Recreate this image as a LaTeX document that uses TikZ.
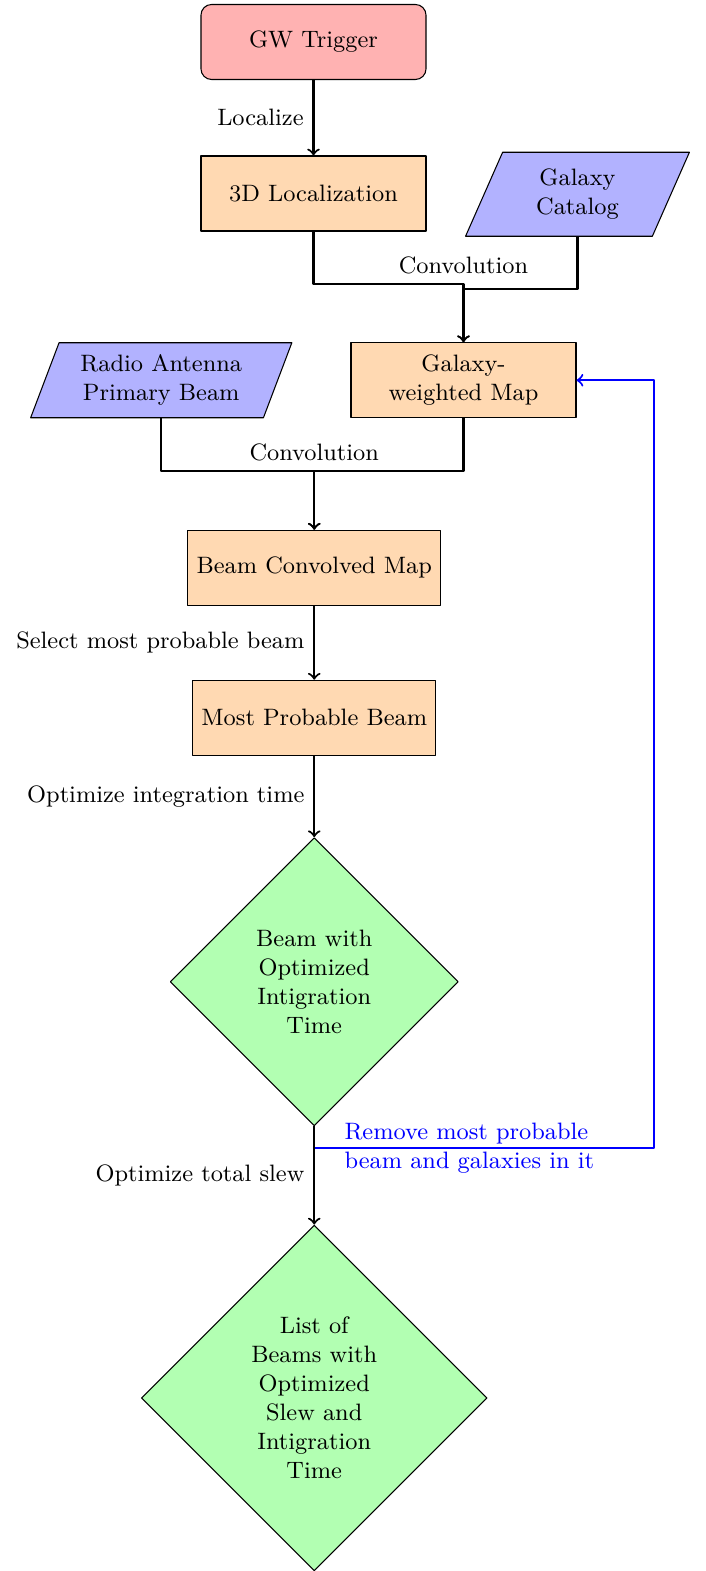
\documentclass[tikz,border=0pt]{standalone}
\usetikzlibrary{shapes.geometric}
\tikzset{
	startstop/.style={rectangle,rounded corners,minimum width=3cm,minimum height=1cm,align=center,draw=black,fill=red!30},
	io/.style={trapezium,trapezium left angle=70,trapezium right angle=110,trapezium stretches=true,minimum width=3cm,minimum height=1cm,align=center,draw=black,fill=blue!30},
	process/.style={rectangle,minimum width=3cm,minimum height=1cm,align=center,draw=black,fill=orange!30},
	decision/.style={diamond,aspect=1,inner sep=0pt,align=center,draw=black,fill=green!30},
	link/.style={thick,->}
}
\begin{document}
\begin{tikzpicture}[line join=round,font=\small]
				\useasboundingbox (0,0) rectangle (9.413,-20.947);
				\node[startstop] (gw) at (4.18,-0.56) {GW Trigger};
				\node[process] (loc) at (4.18,-2.58) {3D Localization};
				\node[io,minimum height=1.12cm] (cat) at (7.70,-2.59) {Galaxy\\Catalog};
				\node[io,minimum width=3.49cm] (rad) at (2.15,-5.07) {Radio Antenna\\Primary Beam};
				\node[process] (gwm) at (6.18,-5.07) {Galaxy-\\weighted Map};
				\node[process] (bcm) at (4.19,-7.57) {Beam Convolved Map};
				\node[process] (mpb) at (4.19,-9.57) {Most Probable Beam};
				\node[decision,minimum width=3.84cm,minimum height=3.84cm] (d1) at (4.19,-13.09) {Beam with\\Optimized\\Intigration\\Time};
				\node[decision,minimum width=4.61cm,minimum height=4.61cm] (d2) at (4.19,-18.64) {List of\\Beams with\\Optimized\\Slew and\\Intigration\\Time};
				\coordinate (back) at (8.72,-15.31);
				\node[blue,anchor=west,align=left] (note) at (4.47,-15.31) {Remove most probable\\beam and galaxies in it};
				\draw[link] (gw) -- node[left]{Localize} (loc);
				\draw[link] (loc.south) -- ++(0,-0.7) -| node[pos=0.5,above]{Convolution} (gwm.north);
				\draw[link] (cat.south) -- ++(0,-0.7) -| (gwm.north);
				\draw[link] (rad.south) -- ++(0,-0.7) -| node[pos=0.5,above]{Convolution} (bcm.north);
				\draw[link] (gwm.south) -- ++(0,-0.7) -| (bcm.north);
				\draw[link] (bcm) -- node[left]{Select most probable beam} (mpb);
				\draw[link] (mpb) -- node[left]{Optimize integration time} (d1);
				\draw[link,blue] (d1.south) |- (back) |- (gwm.east);
				\draw[link] (d1) -- node[left]{Optimize total slew} (d2);
\end{tikzpicture}
\end{document}
